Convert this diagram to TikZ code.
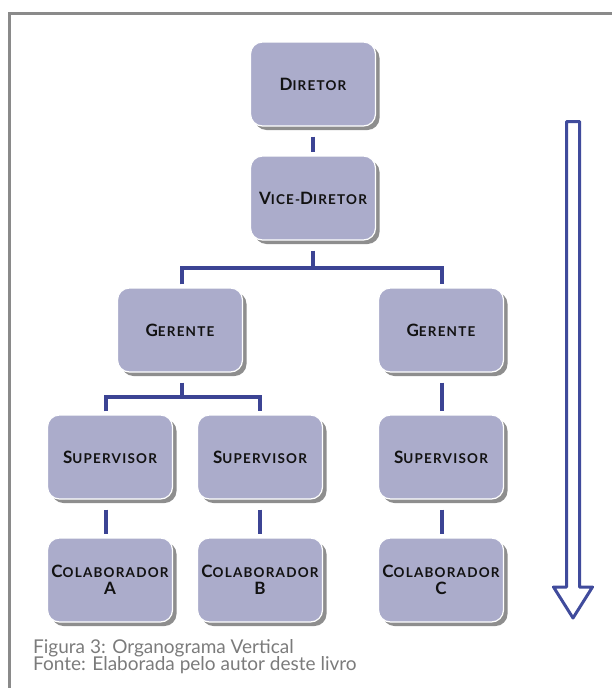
\documentclass[tikz,border=0pt]{standalone}
\usepackage{fontspec}
\setmainfont{Lato}
\newfontfamily\boxfont{Lato}[LetterSpace=9]
\newfontfamily\capfont{Lato}
\definecolor{boxfill}{HTML}{ABACCB}
\definecolor{boxshadow}{HTML}{8E8E8E}
\definecolor{linkblue}{HTML}{3C4494}
\definecolor{arrowblue}{HTML}{404B9C}
\definecolor{framegray}{HTML}{8A8A8A}
\definecolor{capgray}{HTML}{7B7B7B}
\definecolor{boxtext}{HTML}{121212}
% small-caps look: a large initial followed by smaller capitals
\newcommand\capsc[2]{{\fontsize{17}{17}\selectfont #1}{\fontsize{13.5}{17}\selectfont #2}}
\tikzset{
  orgbox/.style={rounded corners=12pt, fill=boxfill, draw=white, line width=1.2pt,
    minimum width=125pt, minimum height=84pt, inner sep=0pt, align=center,
    text=boxtext, font=\boxfont\bfseries\fontsize{13.5}{17}\selectfont,
    preaction={fill=boxshadow, draw=none, transform canvas={xshift=4pt, yshift=-4pt}}},
  link/.style={draw=linkblue, line width=4pt, line join=miter},
  caption/.style={anchor=base west, inner sep=0pt, text=capgray,
    font=\capfont\fontsize{19}{19}\selectfont}
}
\begin{document}
\begin{tikzpicture}[x=1pt, y=-1pt]
\useasboundingbox (0,0) rectangle (612,688);
% frame: top and left edges only
\draw[framegray, line width=3pt] (9,688) -- (9,13) -- (612,13);

% boxes
\node[orgbox] (dir)  at (313,84)  {\capsc{D}{IRETOR}};
\node[orgbox] (vice) at (313,198) {\capsc{V}{ICE-}\capsc{D}{IRETOR}};
\node[orgbox] (gerl) at (180,330) {\capsc{G}{ERENTE}};
\node[orgbox] (gerr) at (441,330) {\capsc{G}{ERENTE}};
\node[orgbox] (supa) at (110,457) {\capsc{S}{UPERVISOR}};
\node[orgbox] (supb) at (260,457) {\capsc{S}{UPERVISOR}};
\node[orgbox] (supc) at (441,457) {\capsc{S}{UPERVISOR}};
\node[orgbox] (cola) at (110,580) {\capsc{C}{OLABORADOR}\\\capsc{A}{}};
\node[orgbox] (colb) at (260,580) {\capsc{C}{OLABORADOR}\\\capsc{B}{}};
\node[orgbox] (colc) at (441,580) {\capsc{C}{OLABORADOR}\\\capsc{C}{}};

% bus junctions
\coordinate (busa) at (313,268);
\coordinate (busb) at (182,397);

% connectors
\draw[link] ([yshift=-10pt]dir.south) -- ([yshift=3pt]vice.north);
\draw[link] ([yshift=-10pt]vice.south) -- (busa);
\draw[link] ([xshift=2pt,yshift=3pt]gerl.north) |- (busa) -| ([xshift=1pt,yshift=3pt]gerr.north);
\draw[link] ([xshift=2pt,yshift=-10pt]gerl.south) -- (busb);
\draw[link] ([xshift=-4pt,yshift=3pt]supa.north) |- (busb) -| ([yshift=3pt]supb.north);
\draw[link] ([xshift=1pt,yshift=-10pt]gerr.south) -- ([xshift=1pt,yshift=3pt]supc.north);
\draw[link] ([xshift=-4pt,yshift=-10pt]supa.south) -- ([xshift=-4pt,yshift=3pt]cola.north);
\draw[link] ([yshift=-10pt]supb.south) -- ([yshift=3pt]colb.north);
\draw[link] ([xshift=1pt,yshift=-10pt]supc.south) -- ([xshift=1pt,yshift=3pt]colc.north);

% hollow downward arrow
\draw[arrowblue, line width=3pt, line join=round]
  (566.5,121.5) -- (579.5,121.5) -- (579.5,587) -- (592.5,587)
  -- (573,618) -- (553.5,587) -- (566.5,587) -- cycle;

% caption
\node[caption] (cap1) at (33,653) {Figura 3: Organograma Vertical};
\node[caption] (cap2) at (33,670) {Fonte: Elaborada pelo autor deste livro};
\end{tikzpicture}
\end{document}
